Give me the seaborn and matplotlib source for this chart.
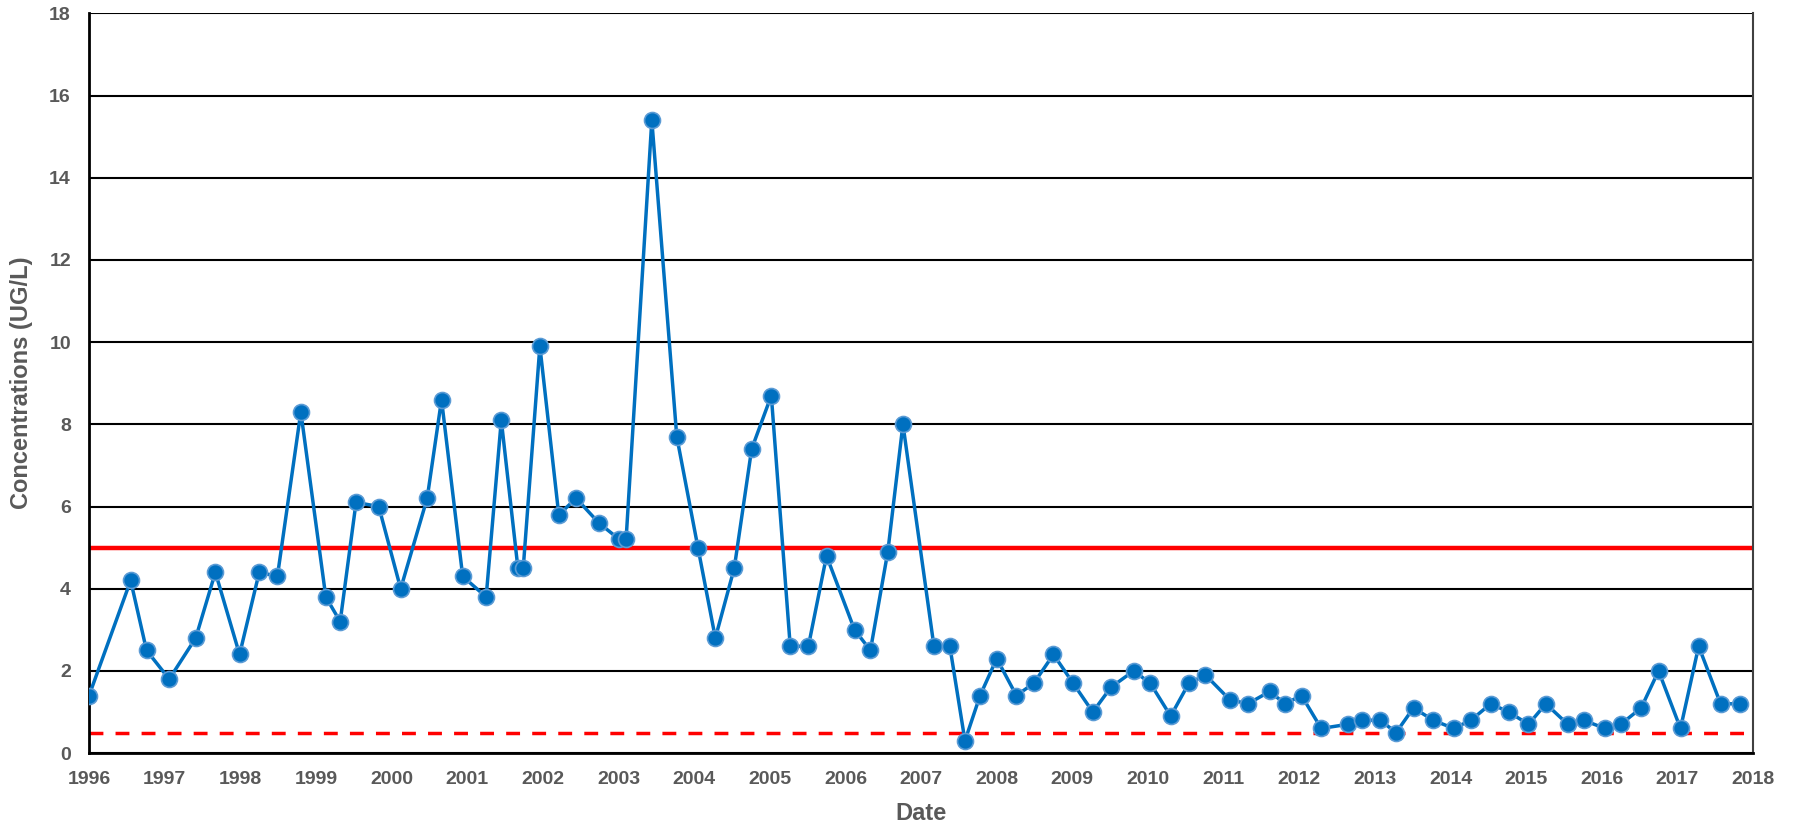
import numpy as np
import pandas as pd
import seaborn as sns
import matplotlib.pyplot as plt

# sample dates as decimal years
dates = [1996.00, 1996.55, 1996.76, 1997.06, 1997.41, 1997.67, 1997.99, 1998.25, 1998.49, 1998.80,
         1999.13, 1999.32, 1999.53, 1999.83, 2000.12, 2000.47, 2000.66, 2000.94, 2001.25, 2001.45,
         2001.67, 2001.74, 2001.96, 2002.21, 2002.44, 2002.74, 2003.01, 2003.10, 2003.44, 2003.77,
         2004.05, 2004.28, 2004.53, 2004.76, 2005.02, 2005.27, 2005.51, 2005.75, 2006.12, 2006.33,
         2006.56, 2006.76, 2007.17, 2007.38, 2007.58, 2007.78, 2008.00, 2008.26, 2008.49, 2008.75,
         2009.01, 2009.27, 2009.51, 2009.81, 2010.03, 2010.30, 2010.54, 2010.76, 2011.08, 2011.32,
         2011.61, 2011.81, 2012.03, 2012.29, 2012.64, 2012.83, 2013.07, 2013.28, 2013.51, 2013.77,
         2014.04, 2014.27, 2014.53, 2014.77, 2015.03, 2015.26, 2015.55, 2015.76, 2016.04, 2016.25,
         2016.52, 2016.75, 2017.04, 2017.28, 2017.57, 2017.83]
conc = [1.4, 4.2, 2.5, 1.8, 2.8, 4.4, 2.4, 4.4, 4.3, 8.3,
        3.8, 3.2, 6.1, 6.0, 4.0, 6.2, 8.6, 4.3, 3.8, 8.1,
        4.5, 4.5, 9.9, 5.8, 6.2, 5.6, 5.2, 5.2, 15.4, 7.7,
        5.0, 2.8, 4.5, 7.4, 8.7, 2.6, 2.6, 4.8, 3.0, 2.5,
        4.9, 8.0, 2.6, 2.6, 0.3, 1.4, 2.3, 1.4, 1.7, 2.4,
        1.7, 1.0, 1.6, 2.0, 1.7, 0.9, 1.7, 1.9, 1.3, 1.2,
        1.5, 1.2, 1.4, 0.6, 0.7, 0.8, 0.8, 0.5, 1.1, 0.8,
        0.6, 0.8, 1.2, 1.0, 0.7, 1.2, 0.7, 0.8, 0.6, 0.7,
        1.1, 2.0, 0.6, 2.6, 1.2, 1.2]

standard = 5.0       # solid red line
report_limit = 0.5   # dashed red line

year_ticks = list(range(1996, 2019))
y_ticks = list(range(0, 19, 2))

df = pd.DataFrame({"date": dates, "conc": conc})

sns.set_style("white")
plt.rcParams["font.family"] = ["Liberation Sans", "DejaVu Sans"]

fig = plt.figure(figsize=(17.99, 8.34), dpi=100)
ax = fig.add_axes([0.0495, 0.097, 0.925, 0.887])

for v in y_ticks:
    ax.axhline(v, color="black", lw=1.5, zorder=1)

ax.axhline(standard, color="#ff0000", lw=3.2, zorder=2)
ax.axhline(report_limit, color="#ff0000", lw=2.5, ls=(0, (4, 3.5)), zorder=2)

sns.lineplot(data=df, x="date", y="conc", ax=ax, color="#0070c0", lw=2.5,
             marker="o", markersize=11.5, markerfacecolor="#0070c0",
             markeredgecolor="#5b9bd5", markeredgewidth=1.2, zorder=3)

ax.set_xlim(1996, 2018)
ax.set_ylim(0, 18)
ax.set_xticks(year_ticks)
ax.set_yticks(y_ticks)
ax.tick_params(axis="both", length=0, labelsize=14, labelcolor="#595959")
ax.tick_params(axis="x", pad=13)
ax.tick_params(axis="y", pad=13)
for lab in ax.get_xticklabels() + ax.get_yticklabels():
    lab.set_fontweight("bold")

ax.set_xlabel("Date", fontsize=17, fontweight="bold", color="#595959", labelpad=10)
ax.set_ylabel("Concentrations (UG/L)", fontsize=17, fontweight="bold", color="#595959",
              labelpad=12)

for side in ["left", "bottom"]:
    ax.spines[side].set_color("black")
    ax.spines[side].set_linewidth(2)
ax.spines["right"].set_color("#404040")
ax.spines["right"].set_linewidth(1.5)
ax.spines["top"].set_visible(False)

fig.savefig("out.png", dpi=100)
